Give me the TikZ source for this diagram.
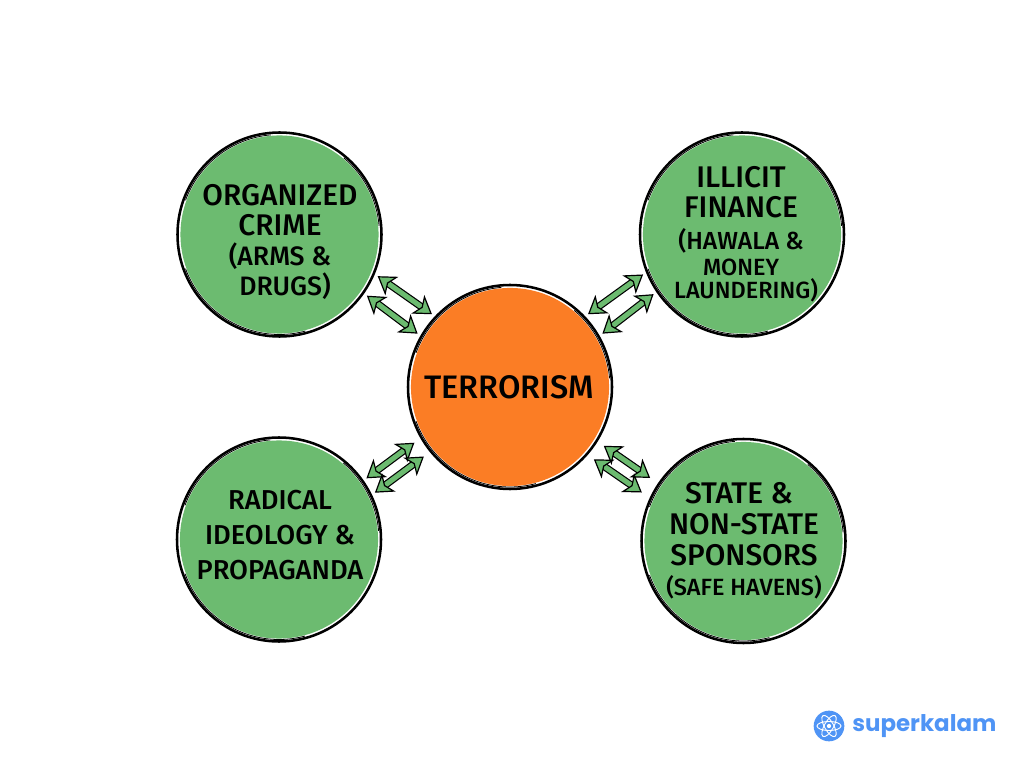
\documentclass[tikz,border=0pt]{standalone}
\usepackage{fontspec}
\usepackage{tikz}
\usetikzlibrary{arrows.meta}
\setmainfont{Fira Sans Medium}
\newfontfamily\logofont{Poppins}

\definecolor{leaf}{HTML}{6CBB70}
\definecolor{flame}{HTML}{FB7D25}
\definecolor{logoblue}{HTML}{4F94F5}

\tikzset{
  blob/.style={circle,draw=black,line width=1.9pt,fill=white,minimum size=153pt,
    inner sep=0pt,outer sep=3.5pt,
    path picture={\fill[#1] (path picture bounding box.center) circle (74.3pt);}},
  sketch/.style={draw=black,line width=.6pt},
  lbl/.style={align=center,text=black,inner sep=0pt,font=\fontsize{22.4}{#1}\selectfont},
  biarrow/.style={draw=black,double=leaf,line width=.9pt,double distance=3.8pt,
    {Stealth[length=13pt,width=17pt,inset=3.5pt,fill=leaf,line width=.9pt]}-%
    {Stealth[length=13pt,width=17pt,inset=3.5pt,fill=leaf,line width=.9pt]}}
}
\newcommand{\smallline}{\fontsize{17.6}{17.6}\selectfont}
\newcommand{\midline}{\fontsize{20}{20}\selectfont}

\begin{document}
\begin{tikzpicture}[x=.75pt,y=.75pt]
\useasboundingbox (0,0) rectangle (1024,768);

% circles
\node[blob=flame] (terror) at (510,381) {};
\node[blob=leaf] (crime) at (279.5,533.5) {};
\node[blob=leaf] (finance) at (742,533.5) {};
\node[blob=leaf] (ideology) at (279,228.5) {};
\node[blob=leaf] (state) at (743.5,227) {};

% second pencil stroke
\foreach \n in {terror,crime,finance,ideology,state}{
  \draw[sketch] ([shift={(95:100)}]\n.center) arc[start angle=95,end angle=160,radius=100];
  \draw[sketch] ([shift={(200:100)}]\n.center) arc[start angle=200,end angle=285,radius=100];
  \draw[sketch] ([shift={(5:100)}]\n.center) arc[start angle=5,end angle=50,radius=100];
}

% labels
\node[lbl=26,font=\fontsize{24.4}{26}\selectfont] (terrortext) at (509,381) {TERRORISM};
\node[lbl=22.5] (crimetext) at (280,526) {ORGANIZED\\CRIME\\{\midline (ARMS \&\hspace*{12pt}}\\{\midline\hspace*{7.5pt}DRUGS)}};
\node[lbl=17] (financetext) at (741,534) {ILLICIT\\[5.5pt]FINANCE\\[7pt]{\fontsize{18.5}{18.5}\selectfont (HAWALA \&\hspace*{7.5pt}}\\[2.5pt]{\smallline MONEY}\\{\smallline\hspace*{7.5pt}LAUNDERING)}};
\node[lbl=26,font=\fontsize{20.5}{26}\selectfont] (ideologytext) at (280,233) {RADICAL\\IDEOLOGY \&\\PROPAGANDA};
\node[lbl=23] (statetext) at (744,227) {STATE \&\hspace*{7.5pt}\\NON-STATE\\SPONSORS\\{\smallline (SAFE HAVENS)}};

% links
\draw[biarrow] (crime.-23.6) -- (terror.137);
\draw[biarrow] (crime.-35.5) -- (terror.150.3);
\draw[biarrow] (finance.202.3) -- (terror.43.5);
\draw[biarrow] (finance.214.6) -- (terror.30.7);
\draw[biarrow,shorten >=3pt] (ideology.35) -- (terror.210.3);
\draw[biarrow,shorten >=3pt] (ideology.26.3) -- (terror.219.2);
\draw[biarrow,shorten <=4.5pt,shorten >=3pt] (state.146.3) -- (terror.-32.4);
\draw[biarrow,shorten <=4.5pt,shorten >=3pt] (state.155.1) -- (terror.-41.4);

% logo
\node[circle,fill=logoblue,minimum size=23pt,inner sep=0pt] (logo) at (829,42) {};
\foreach \a in {0,60,120}
  \draw[white,line width=.7pt,rotate around={\a:(logo.center)}] (logo.center) ellipse (9pt and 3.4pt);
\fill[white] (logo.center) circle (1.6pt);
\node[anchor=west,inner sep=0pt,text=logoblue] (logotext) at (852,42) {\logofont\bfseries\fontsize{17.2}{19}\selectfont superkalam};
\end{tikzpicture}
\end{document}
